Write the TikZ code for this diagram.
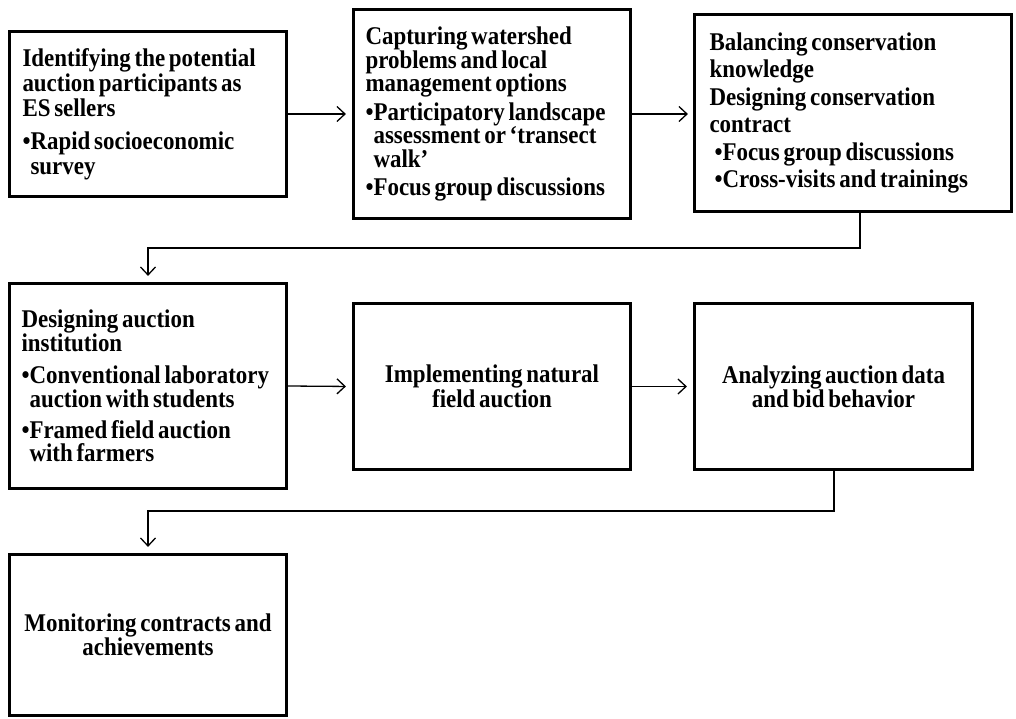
\documentclass[tikz,border=0pt]{standalone}
\usepackage{fontspec}
\setmainfont{Liberation Serif}
\newfontfamily\boxfont{Liberation Serif}[FakeStretch=0.9,WordSpace=0.65]
\usetikzlibrary{arrows.meta}
\begin{document}
\begin{tikzpicture}[x=1pt,y=-1pt,
  stagebox/.style={draw=black, line width=3.2pt, fill=white, rectangle, inner ysep=0pt, text=black},
  leftbox/.style={stagebox, align=flush left},
  midbox/.style={stagebox, align=center},
  flow/.style={line width=1.3pt, draw=black, -{Straight Barb[length=8pt,width=15pt,line width=1.3pt]}},
]
\useasboundingbox[fill=white] (0,0) rectangle (1016,719);

% top row
\node[leftbox, minimum width=277pt, minimum height=165pt, inner xsep=13pt, text width=251pt,
      font=\boxfont\bfseries\fontsize{25.5}{25}\selectfont] (b1) at (148,114)
  {Identifying the potential\\ auction participants as\\ ES sellers\\[8pt]
   •Rapid socioeconomic\\ \hphantom{•}survey};

\node[leftbox, minimum width=277pt, minimum height=209pt, inner xsep=12pt, text width=253pt,
      font=\boxfont\bfseries\fontsize{25.5}{23.5}\selectfont] (b2) at (492,114)
  {Capturing watershed\\ problems and local\\ management options\\[5pt]
   •Participatory landscape\\ \hphantom{•}assessment or ‘transect\\ \hphantom{•}walk’\\[5pt]
   •Focus group discussions};

\node[leftbox, minimum width=317pt, minimum height=197pt, inner xsep=15pt, text width=287pt,
      font=\boxfont\bfseries\fontsize{25.5}{27.5}\selectfont] (b3) at (853,113)
  {Balancing conservation\\ knowledge\\ Designing conservation\\ contract\\
   \hspace*{5pt}•Focus group discussions\\ \hspace*{5pt}•Cross-visits and trainings};

% middle row
\node[leftbox, minimum width=277pt, minimum height=205pt, inner xsep=12pt, text width=253pt,
      font=\boxfont\bfseries\fontsize{25.5}{23}\selectfont] (b4) at (148,386)
  {Designing auction\\ institution\\[9pt]
   •Conventional laboratory\\ \hphantom{•}auction with students\\[8pt]
   •Framed field auction\\ \hphantom{•}with farmers};

\node[midbox, minimum width=277pt, minimum height=166pt,
      font=\boxfont\bfseries\fontsize{25.5}{23}\selectfont] (b5) at (492,386.5)
  {Implementing natural\\ field auction};

\node[midbox, minimum width=278pt, minimum height=166pt,
      font=\boxfont\bfseries\fontsize{25.5}{23}\selectfont] (b6) at (833.5,386.5)
  {Analyzing auction data\\ and bid behavior};

% bottom row
\node[midbox, minimum width=277pt, minimum height=161pt,
      font=\boxfont\bfseries\fontsize{25.5}{22}\selectfont] (b7) at (148,635)
  {Monitoring contracts and\\ achievements};

% connectors
\coordinate (c1) at (860,248);
\coordinate (c2) at (834,511);

\draw[flow, shorten >=6pt] (b1.east) -- (b2.west);
\draw[flow, shorten >=5pt] (b2.west -| b2.east) -- (b3.west |- b2.east);
\draw[flow, shorten >=6pt] (b3.south -| c1) -- (c1) -| (b4.north);
\draw[flow, shorten >=6pt] (b4.east) -- (b5.west);
\draw[flow, shorten >=6pt] (b5.east) -- (b6.west);
\draw[flow, shorten >=6pt] (b6.south -| c2) -- (c2) -| (b7.north);
\end{tikzpicture}
\end{document}
